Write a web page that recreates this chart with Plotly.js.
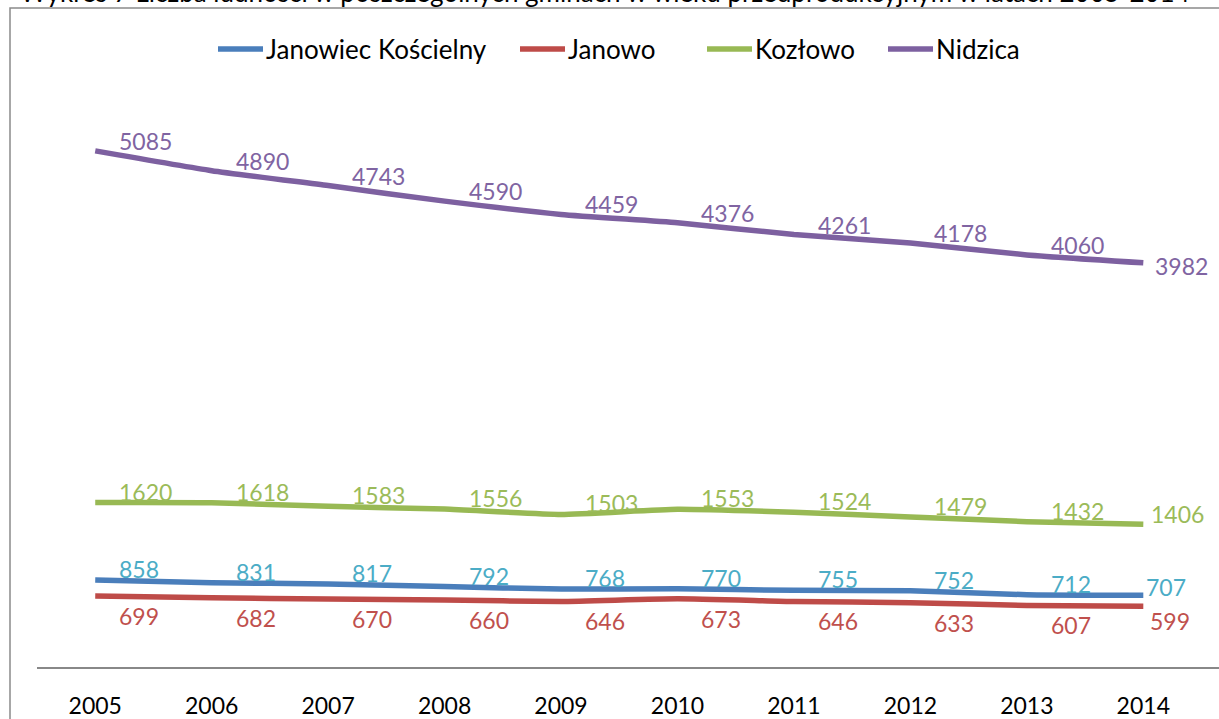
<!DOCTYPE html>
<html>
<head>
<meta charset="utf-8">
<script src="https://cdn.plot.ly/plotly-3.0.1.min.js"></script>
<style>html,body{margin:0;padding:0;background:#fff;}#chart{width:1219px;height:719px;}</style>
</head>
<body>
<div id="chart"></div>
<script>
const years = ['2005','2006','2007','2008','2009','2010','2011','2012','2013','2014'];
const janowiecKoscielny = [858, 831, 817, 792, 768, 770, 755, 752, 712, 707];
const janowo = [699, 682, 670, 660, 646, 673, 646, 633, 607, 599];
const kozlowo = [1620, 1618, 1583, 1556, 1503, 1553, 1524, 1479, 1432, 1406];
const nidzica = [5085, 4890, 4743, 4590, 4459, 4376, 4261, 4178, 4060, 3982];
const seriesNames = ['Janowiec Kościelny', 'Janowo', 'Kozłowo', 'Nidzica'];
const chartTitle = 'Wykres 7 Liczba ludności w poszczególnych gminach w wieku przedprodukcyjnym w latach 2005-2014';

const FONT = 'Lato, "Open Sans", sans-serif';
// plot-area geometry (pixels) used for converting layout-only positions
const PL = 37, PW = 1182, PB = 667, PH = 609;
const px = v => (v - PL) / PW;
const py = v => (PB - v) / PH;

const series = [
  {name: seriesNames[0], y: janowiecKoscielny, line: '#4A7EBB', text: '#4BACC6', dy: 11, lastDy: 8, lastDx: 1, legX: 218},
  {name: seriesNames[1], y: janowo, line: '#BE4B48', text: '#C0504D', dy: -20, lastDy: -15, lastDx: 5, legX: 520},
  {name: seriesNames[2], y: kozlowo, line: '#98B954', text: '#9BBB59', dy: 11, lastDy: 10, lastDx: 6, legX: 707},
  {name: seriesNames[3], y: nidzica, line: '#7D60A0', text: '#8064A2', dy: 10, lastDy: -3, lastDx: 10, legX: 888}
];

const traces = series.map(s => ({
  type: 'scatter', mode: 'lines', name: s.name, x: years, y: s.y, showlegend: false,
  line: {color: s.line, width: 5.5, shape: 'spline', smoothing: 0.5},
  hoverinfo: 'x+y'
}));

const annotations = [];
const shapes = [];
series.forEach(s => {
  s.y.forEach((v, i) => {
    const last = i === years.length - 1;
    annotations.push({
      x: i, y: v, xref: 'x', yref: 'y', text: String(v), showarrow: false,
      xanchor: 'left', yanchor: 'middle',
      xshift: last ? s.lastDx : 22, yshift: last ? s.lastDy : s.dy,
      font: {family: FONT, size: 23, color: s.text}
    });
  });
  // legend entry
  shapes.push({type: 'line', xref: 'paper', yref: 'paper', x0: px(s.legX), x1: px(s.legX + 45),
               y0: py(49), y1: py(49), line: {color: s.line, width: 5.5}});
  annotations.push({text: s.name, xref: 'paper', yref: 'paper', x: px(s.legX + 46), y: py(49),
                    xanchor: 'left', yanchor: 'middle', showarrow: false,
                    font: {family: FONT, size: 26, color: '#000'}});
});
annotations.push({
  text: chartTitle, xref: 'paper', yref: 'paper', x: px(18), y: py(-8),
  xanchor: 'left', yanchor: 'middle', showarrow: false,
  font: {family: FONT, size: 26, color: '#000'}
});
shapes.push({type: 'rect', xref: 'paper', yref: 'paper',
             x0: px(10), x1: px(1260), y0: py(740), y1: py(8),
             line: {color: '#8a8a8a', width: 1.5}, fillcolor: 'rgba(0,0,0,0)', layer: 'below'});

const layout = {
  width: 1219, height: 719,
  margin: {l: PL, r: 0, t: 58, b: 52},
  paper_bgcolor: '#fff', plot_bgcolor: '#fff',
  font: {family: FONT, size: 22, color: '#000'},
  showlegend: false,
  xaxis: {type: 'category', range: [-0.5, 9.65], showgrid: false, zeroline: false,
          showline: true, linecolor: '#888888', linewidth: 2, ticks: '', ticklabelstandoff: 17,
          tickfont: {family: FONT, size: 23, color: '#000'}, fixedrange: true},
  yaxis: {range: [0, 6000], visible: false, showgrid: false, zeroline: false, fixedrange: true},
  annotations: annotations,
  shapes: shapes
};

Plotly.newPlot('chart', traces, layout, {displayModeBar: false, staticPlot: true});
</script>
</body>
</html>
